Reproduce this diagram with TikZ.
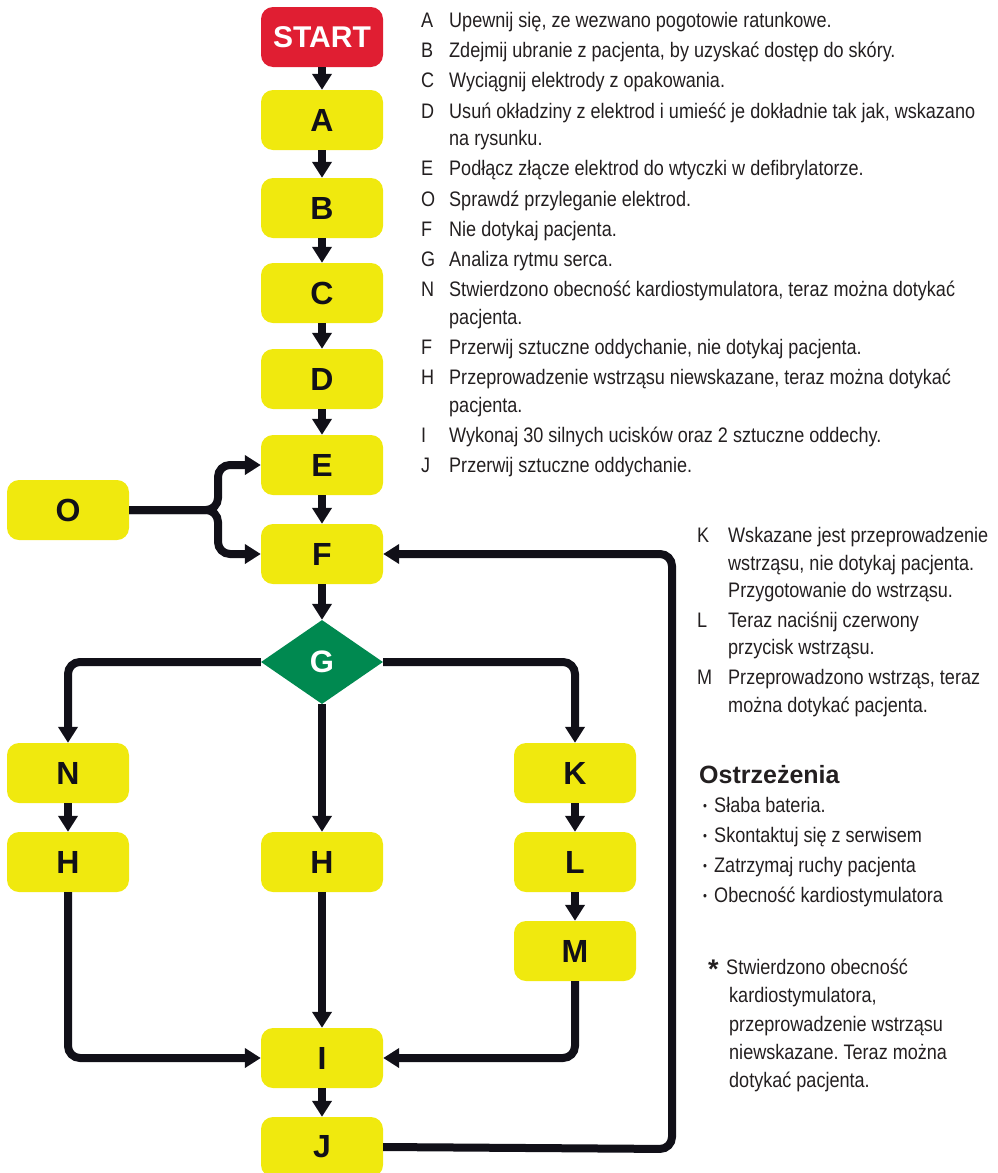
\documentclass[tikz,border=0pt]{standalone}
\usepackage{fontspec}
\setmainfont{Liberation Sans}[FakeStretch=0.86]
\newfontfamily\labelfont{Liberation Sans}
\usetikzlibrary{arrows.meta,shapes.geometric}
\frenchspacing
\definecolor{aedyellow}{RGB}{240,233,14}
\definecolor{aedred}{RGB}{224,30,50}
\definecolor{aedgreen}{RGB}{0,137,80}
\definecolor{ink}{RGB}{17,16,24}
\definecolor{txt}{RGB}{35,31,32}
\tikzset{
	box/.style={rectangle,rounded corners=12pt,fill=aedyellow,
		minimum width=122pt,minimum height=60pt,inner sep=0pt,text=ink,
		font=\labelfont\bfseries\fontsize{32}{32}\selectfont},
	startbox/.style={box,fill=aedred,text=white,
		font=\labelfont\bfseries\fontsize{30}{30}\selectfont},
	decision/.style={diamond,fill=aedgreen,minimum width=122pt,
		minimum height=84pt,inner sep=0pt,text=white,
		font=\labelfont\bfseries\fontsize{31}{31}\selectfont},
	link/.style={draw=ink,line width=8pt,-{Triangle[width=19pt,length=16pt]}},
	legend/.style={inner sep=0pt,text=txt,anchor=base west,
		font=\fontsize{21}{27.6}\selectfont}
}
\begin{document}
\begin{tikzpicture}[x=1pt,y=-1pt]
\useasboundingbox (0,0) rectangle (997,1173);
% main column
\node[startbox] (start) at (322,37) {START};
\node[box] (A) at (322,120) {A};
\node[box] (B) at (322,208) {B};
\node[box] (C) at (322,293) {C};
\node[box] (D) at (322,379) {D};
\node[box] (E) at (322,465) {E};
\node[box] (F) at (322,554) {F};
\node[box] (O) at (68,510) {O};
\node[decision] (G) at (322,662) {G};
% three branches
\node[box] (N) at (68,773) {N};
\node[box] (H1) at (68,862) {H};
\node[box] (H2) at (322,862) {H};
\node[box] (K) at (575,773) {K};
\node[box] (L) at (575,862) {L};
\node[box] (M) at (575,951) {M};
\node[box] (I) at (322,1058) {I};
\node[box] (J) at (322,1147) {J};
\coordinate (split) at (218,510);
\coordinate (back) at (672,1149);

\draw[link] (start) -- (A);
\draw[link] (A) -- (B);
\draw[link] (B) -- (C);
\draw[link] (C) -- (D);
\draw[link] (D) -- (E);
\draw[link] (E) -- (F);
\draw[link] (F) -- (G);
\draw[link,rounded corners=12pt] (O.east) -- (split) |- (E.west);
\draw[link,rounded corners=12pt] (O.east) -- (split) |- (F.west);
\draw[link,rounded corners=12pt] (G.west) -| (N.north);
\draw[link,rounded corners=12pt] (G.east) -| (K.north);
\draw[link] (G.south) -- (H2.north);
\draw[link] (N) -- (H1);
\draw[link] (K) -- (L);
\draw[link] (L) -- (M);
\draw[link,rounded corners=12pt] (H1.south) |- (I.west);
\draw[link] (H2.south) -- (I.north);
\draw[link,rounded corners=12pt] (M.south) |- (I.east);
\draw[link] (I) -- (J);
\draw[link,rounded corners=12pt] (J.east) -- (back) |- (F.east);

% legend texts
\node[legend] (steps) at (421,27.5) {\begin{tabular}[t]{@{}p{28pt}@{}l@{}}
A & Upewnij się, ze wezwano pogotowie ratunkowe.\\[2.6pt]
B & Zdejmij ubranie z pacjenta, by uzyskać dostęp do skóry.\\[2.6pt]
C & Wyciągnij elektrody z opakowania.\\[2.6pt]
D & Usuń okładziny z elektrod i umieść je dokładnie tak jak, wskazano\\
  & na rysunku.\\[2.6pt]
E & Podłącz złącze elektrod do wtyczki w defibrylatorze.\\[2.6pt]
O & Sprawdź przyleganie elektrod.\\[2.6pt]
F & Nie dotykaj pacjenta.\\[2.6pt]
G & Analiza rytmu serca.\\[2.6pt]
N & Stwierdzono obecność kardiostymulatora, teraz można dotykać\\
  & pacjenta.\\[2.6pt]
F & Przerwij sztuczne oddychanie, nie dotykaj pacjenta.\\[2.6pt]
H & Przeprowadzenie wstrząsu niewskazane, teraz można dotykać\\
  & pacjenta.\\[2.6pt]
I & Wykonaj 30 silnych ucisków oraz 2 sztuczne oddechy.\\[2.6pt]
J & Przerwij sztuczne oddychanie.
\end{tabular}};
\node[legend] (shock) at (697,542.5) {\begin{tabular}[t]{@{}p{31pt}@{}l@{}}
K & Wskazane jest przeprowadzenie\\
  & wstrząsu, nie dotykaj pacjenta.\\
  & Przygotowanie do wstrząsu.\\[2pt]
L & Teraz naciśnij czerwony\\
  & przycisk wstrząsu.\\[2pt]
M & Przeprowadzono wstrząs, teraz\\
  & można dotykać pacjenta.
\end{tabular}};
\node[legend,font=\labelfont\bfseries\fontsize{25}{25}\selectfont] (warn) at (699,783) {Ostrzeżenia};
\node[legend] (alerts) at (703,812.5) {\begin{tabular}[t]{@{}p{11pt}@{}l@{}}
\raisebox{2pt}{\fontsize{13}{13}\selectfont\textbullet} & Słaba bateria.\\[2.4pt]
\raisebox{2pt}{\fontsize{13}{13}\selectfont\textbullet} & Skontaktuj się z serwisem\\[2.4pt]
\raisebox{2pt}{\fontsize{13}{13}\selectfont\textbullet} & Zatrzymaj ruchy pacjenta\\[2.4pt]
\raisebox{2pt}{\fontsize{13}{13}\selectfont\textbullet} & Obecność kardiostymulatora
\end{tabular}};
\node[legend,font=\labelfont\bfseries\fontsize{27}{27}\selectfont] (star) at (708,978) {*};
\node[legend,font=\fontsize{21}{28.3}\selectfont] (note) at (726,974.5) {\begin{tabular}[t]{@{}l@{}}
Stwierdzono obecność\\
\hspace{3pt}kardiostymulatora,\\
\hspace{3pt}przeprowadzenie wstrząsu\\
\hspace{3pt}niewskazane. Teraz można\\
\hspace{3pt}dotykać pacjenta.
\end{tabular}};
\end{tikzpicture}
\end{document}
